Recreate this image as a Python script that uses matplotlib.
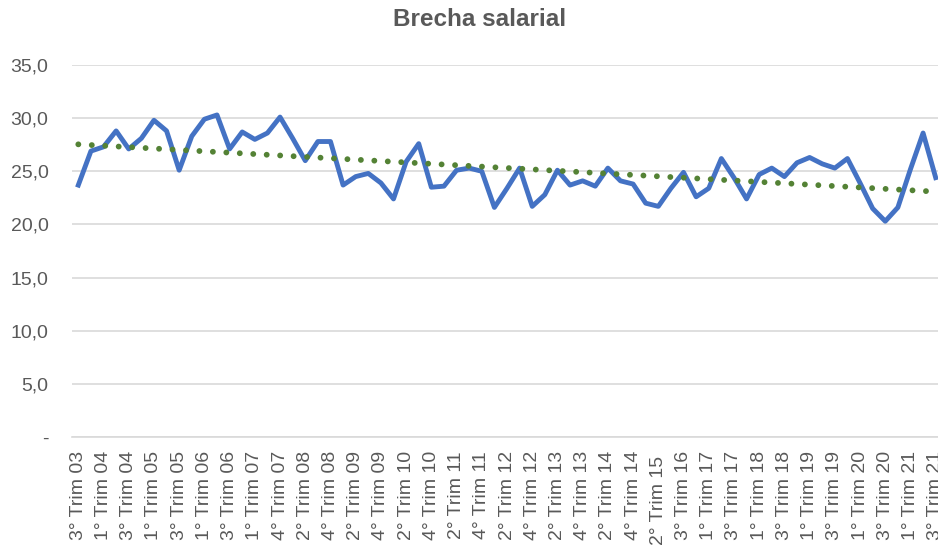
import numpy as np
import matplotlib
matplotlib.use("Agg")
import matplotlib.pyplot as plt

# Trimestres (faltan 3T07, 3T15, 4T15 y 1T16 en la serie)
trimestres = (
    ["3° Trim 03", "4° Trim 03"]
    + [f"{q}° Trim {a:02d}" for a in (4, 5, 6) for q in (1, 2, 3, 4)]
    + ["1° Trim 07", "2° Trim 07", "4° Trim 07"]
    + [f"{q}° Trim {a:02d}" for a in range(8, 15) for q in (1, 2, 3, 4)]
    + ["1° Trim 15", "2° Trim 15 "]
    + ["2° Trim 16", "3° Trim 16", "4° Trim 16"]
    + [f"{q}° Trim {a:02d}" for a in range(17, 21) for q in (1, 2, 3, 4)]
    + ["1° Trim 21", "2° Trim 21", "3° Trim 21"]
)

brecha = [
    23.7, 26.9, 27.3, 28.8, 27.1, 28.1, 29.8, 28.8, 25.1, 28.3,
    29.9, 30.3, 27.1, 28.7, 28.0, 28.6, 30.1, 28.1, 26.0, 27.8,
    27.8, 23.7, 24.5, 24.8, 23.9, 22.4, 25.9, 27.6, 23.5, 23.6,
    25.1, 25.3, 25.0, 21.6, 23.4, 25.3, 21.7, 22.8, 25.1, 23.7,
    24.1, 23.6, 25.3, 24.1, 23.8, 22.0, 21.7, 23.4, 24.9, 22.6,
    23.4, 26.2, 24.4, 22.4, 24.7, 25.3, 24.5, 25.8, 26.3, 25.7,
    25.3, 26.2, 23.9, 21.5, 20.3, 21.6, 25.2, 28.6, 24.4,
]

x = np.arange(len(brecha))
coef = np.polyfit(x, brecha, 1)
tendencia = np.polyval(coef, x)

gris = "#595959"
fig = plt.figure(figsize=(9.38, 5.46), dpi=100)
ax = fig.add_axes([72 / 938, 109 / 546, 870 / 938, 372 / 546])

ax.plot(x, brecha, color="#4472C4", linewidth=3.5, solid_joinstyle="round", zorder=3)
ax.plot(x, tendencia, color="#548235", linewidth=4.2, linestyle=(0, (0.01, 2.3)),
        dash_capstyle="round", zorder=4)

ax.set_xlim(-0.5, len(brecha) - 0.5)
ax.set_ylim(0, 35)
ax.set_yticks(np.arange(0, 36, 5))
ax.set_yticklabels(["-"] + [f"{v:.1f}".replace(".", ",") for v in range(5, 36, 5)])
ax.set_xticks(x[::2])
ax.set_xticklabels(trimestres[::2], rotation=90, va="top", ha="center")

ax.grid(axis="y", color="#D9D9D9", linewidth=1.2)
ax.set_axisbelow(True)
for s in ["top", "right", "left"]:
    ax.spines[s].set_visible(False)
ax.spines["bottom"].set_color("#D9D9D9")
ax.spines["bottom"].set_linewidth(1.2)
ax.tick_params(axis="both", length=0, labelsize=14, labelcolor=gris)
ax.tick_params(axis="y", pad=17)
ax.tick_params(axis="x", pad=10)
for lab in ax.get_xticklabels() + ax.get_yticklabels():
    lab.set_family("Liberation Sans")

fig.text(480 / 938, 1 - 20 / 546, "Brecha salarial", ha="center", va="center",
         fontsize=17.5, fontweight="bold", color=gris, family="Liberation Sans")

fig.savefig("out.png", dpi=100)
